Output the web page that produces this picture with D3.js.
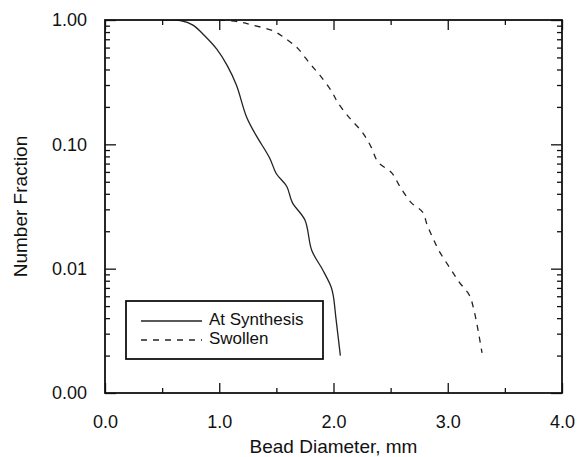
<!DOCTYPE html>
<html>
<head>
<meta charset="utf-8">
<script src="https://cdn.jsdelivr.net/npm/d3@7"></script>
<style>
  body { margin: 0; background: #fff; }
  text { font-family: "Liberation Sans", Arial, Helvetica, sans-serif; fill: #111; }
</style>
</head>
<body>
<div id="chart"></div>
<script>
// bead size distributions
const synX = [0.50, 0.66, 0.77, 0.87, 0.98, 1.07, 1.15, 1.24, 1.32, 1.44, 1.50, 1.59,
  1.64, 1.75, 1.81, 1.905, 1.98, 2.00, 2.02, 2.06];
const synY = [1.0, 0.99, 0.91, 0.75, 0.58, 0.43, 0.30, 0.165, 0.119, 0.078, 0.058, 0.046,
  0.034, 0.0246, 0.014, 0.0098, 0.0071, 0.0059, 0.0041, 0.002];
const swX = [1.00, 1.16, 1.29, 1.47, 1.56, 1.68, 1.79, 1.88, 1.98, 2.04, 2.14, 2.25, 2.33,
  2.39, 2.51, 2.58, 2.68, 2.78, 2.82, 2.87, 2.93, 3.02, 3.10, 3.19, 3.23, 3.26, 3.30];
const swY = [1.0, 0.97, 0.91, 0.82, 0.73, 0.60, 0.45, 0.36, 0.27, 0.215, 0.163, 0.126, 0.095,
  0.072, 0.059, 0.046, 0.034, 0.0285, 0.0224, 0.0176, 0.0136, 0.0101, 0.0078, 0.0061, 0.0046,
  0.0034, 0.0021];
const xMajor = [0, 1, 2, 3, 4];
const xMinor = [0.5, 1.5, 2.5, 3.5];
const yMajor = [1, 0.1, 0.01, 0.001];
const yLabels = ["1.00", "0.10", "0.01", "0.00"];
const seriesNames = ["At Synthesis", "Swollen"];

const W = 579, H = 457;
const LEFT = 105, RIGHT = 562, TOP = 20, BOTTOM = 393;

const svg = d3.select("#chart").append("svg")
  .attr("width", W).attr("height", H);

const x = d3.scaleLinear().domain([0, 4]).range([LEFT, RIGHT]);
const y = d3.scaleLog().domain([0.001, 1]).range([BOTTOM, TOP]);

var yMinor = [];
[0.001, 0.01, 0.1].forEach(d => {
  for (let k = 2; k <= 9; k++) yMinor.push(d * k);
});

function styleAxis(g) {
  g.select(".domain").remove();
  g.selectAll("line").attr("stroke", "#111").attr("stroke-width", 1.3);
  g.selectAll("text").attr("font-size", 18).attr("fill", "#111");
}

// bottom
svg.append("g").attr("transform", `translate(0,${BOTTOM})`)
  .call(d3.axisBottom(x).tickValues(xMajor).tickSize(-10).tickPadding(22)
    .tickFormat(d3.format(".1f")))
  .call(styleAxis);
svg.append("g").attr("transform", `translate(0,${BOTTOM})`)
  .call(d3.axisBottom(x).tickValues(xMinor).tickSize(-5).tickFormat(""))
  .call(styleAxis);
// top
svg.append("g").attr("transform", `translate(0,${TOP})`)
  .call(d3.axisTop(x).tickValues(xMajor).tickSize(-10).tickFormat(""))
  .call(styleAxis);
svg.append("g").attr("transform", `translate(0,${TOP})`)
  .call(d3.axisTop(x).tickValues(xMinor).tickSize(-5).tickFormat(""))
  .call(styleAxis);
// left
svg.append("g").attr("transform", `translate(${LEFT},0)`)
  .call(d3.axisLeft(y).tickValues(yMajor).tickSize(-11).tickPadding(18)
    .tickFormat((d, i) => yLabels[i]))
  .call(styleAxis);
svg.append("g").attr("transform", `translate(${LEFT},0)`)
  .call(d3.axisLeft(y).tickValues(yMinor).tickSize(-5).tickFormat(""))
  .call(styleAxis);
// right
svg.append("g").attr("transform", `translate(${RIGHT},0)`)
  .call(d3.axisRight(y).tickValues(yMajor).tickSize(-11).tickFormat(""))
  .call(styleAxis);
svg.append("g").attr("transform", `translate(${RIGHT},0)`)
  .call(d3.axisRight(y).tickValues(yMinor).tickSize(-5).tickFormat(""))
  .call(styleAxis);

svg.append("clipPath").attr("id", "plotclip")
  .append("rect")
  .attr("x", LEFT).attr("y", TOP)
  .attr("width", RIGHT - LEFT).attr("height", BOTTOM - TOP);

const line = d3.line().x(d => x(d[0])).y(d => y(d[1]))
  .curve(d3.curveCatmullRom.alpha(0.5));

svg.append("path")
  .datum(synX.map((v, i) => [v, synY[i]]))
  .attr("d", line)
  .attr("clip-path", "url(#plotclip)")
  .attr("fill", "none").attr("stroke", "#222").attr("stroke-width", 1.3);

svg.append("path")
  .datum(swX.map((v, i) => [v, swY[i]]))
  .attr("d", line)
  .attr("clip-path", "url(#plotclip)")
  .attr("fill", "none").attr("stroke", "#222").attr("stroke-width", 1.3)
  .attr("stroke-dasharray", "6,6");

// frame
svg.append("rect")
  .attr("x", LEFT).attr("y", TOP)
  .attr("width", RIGHT - LEFT).attr("height", BOTTOM - TOP)
  .attr("fill", "none").attr("stroke", "#111").attr("stroke-width", 1.8);

// axis titles
svg.append("text")
  .attr("x", (LEFT + RIGHT) / 2).attr("y", 448)
  .attr("text-anchor", "middle").attr("dominant-baseline", "middle")
  .attr("font-size", 19)
  .text("Bead Diameter, mm");

svg.append("text")
  .attr("transform", `translate(22,${(TOP + BOTTOM) / 2}) rotate(-90)`)
  .attr("text-anchor", "middle").attr("dominant-baseline", "middle")
  .attr("font-size", 19)
  .text("Number Fraction");

// legend
const lg = svg.append("g").attr("transform", "translate(126,301)");
lg.append("rect")
  .attr("width", 197).attr("height", 58)
  .attr("fill", "#fff").attr("stroke", "#111").attr("stroke-width", 1.8);
seriesNames.forEach((name, i) => {
  const yy = 20 + i * 19;
  lg.append("line")
    .attr("x1", 15).attr("x2", 76).attr("y1", yy).attr("y2", yy)
    .attr("stroke", "#222").attr("stroke-width", 1.3)
    .attr("stroke-dasharray", i === 0 ? null : "6,6");
  lg.append("text")
    .attr("x", 83).attr("y", yy)
    .attr("dominant-baseline", "middle")
    .attr("font-size", 17)
    .text(name);
});
</script>
</body>
</html>
